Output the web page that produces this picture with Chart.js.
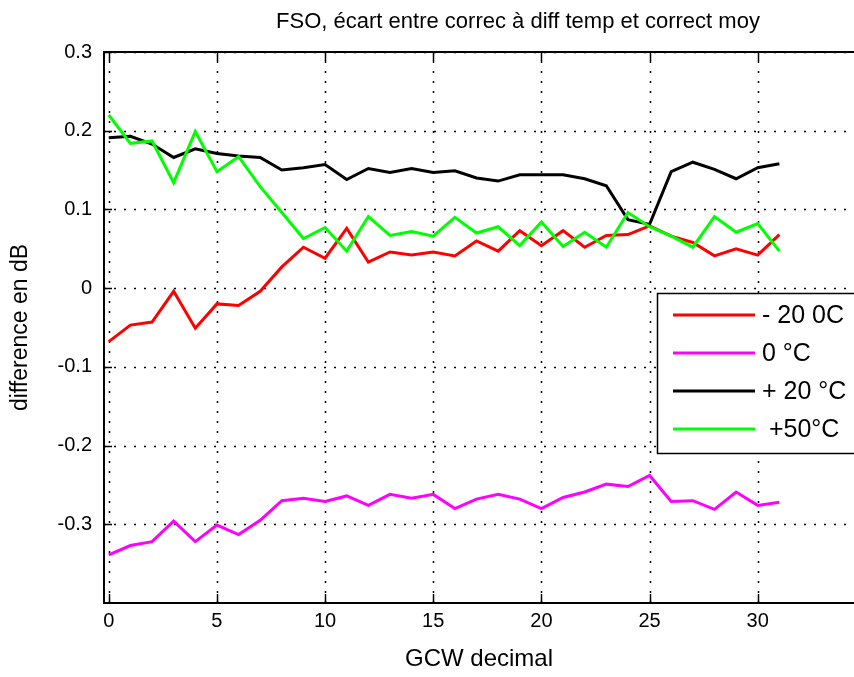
<!DOCTYPE html>
<html lang="fr">
<head>
<meta charset="UTF-8">
<title>FSO, écart entre correc à diff temp et correct moy</title>
<script src="https://cdn.jsdelivr.net/npm/chart.js"></script>
<style>
  body { margin: 0; background: #fff; }
  canvas { display: block; }
</style>
</head>
<body>
<canvas id="chart" width="854" height="677"></canvas>
<script>
// GCW decimal (x)
const gcw = [0, 1, 2, 3, 4, 5, 6, 7, 8, 9, 10, 11, 12, 13, 14, 15,
             16, 17, 18, 19, 20, 21, 22, 23, 24, 25, 26, 27, 28, 29, 30, 31];

const seriesNames = ['- 20 0C', '0 °C', '+ 20 °C', ' +50°C'];

// difference en dB
const minus20 = [-0.068, -0.047, -0.043, -0.004, -0.051, -0.020, -0.022, -0.004, 0.027, 0.052, 0.038, 0.076,
                 0.033, 0.046, 0.042, 0.046, 0.041, 0.060, 0.047, 0.073, 0.054, 0.073, 0.052, 0.067,
                 0.068, 0.079, 0.066, 0.058, 0.041, 0.050, 0.042, 0.068];
const zeroC = [-0.339, -0.327, -0.322, -0.296, -0.322, -0.301, -0.313, -0.295, -0.270, -0.267, -0.271, -0.264,
               -0.276, -0.262, -0.267, -0.262, -0.280, -0.268, -0.262, -0.268, -0.280, -0.266, -0.259, -0.249,
               -0.252, -0.238, -0.271, -0.270, -0.281, -0.259, -0.276, -0.272];
const plus20 = [0.191, 0.193, 0.183, 0.166, 0.177, 0.171, 0.168, 0.166, 0.150, 0.153, 0.157, 0.138,
                0.152, 0.147, 0.152, 0.147, 0.149, 0.140, 0.136, 0.144, 0.144, 0.144, 0.139, 0.130,
                0.087, 0.081, 0.148, 0.160, 0.151, 0.139, 0.153, 0.158];
const plus50 = [0.220, 0.184, 0.187, 0.134, 0.199, 0.148, 0.167, 0.129, 0.096, 0.063, 0.077, 0.047,
                0.091, 0.067, 0.072, 0.066, 0.090, 0.070, 0.078, 0.054, 0.084, 0.053, 0.071, 0.052,
                0.096, 0.078, 0.066, 0.052, 0.091, 0.071, 0.082, 0.047];

const xTicks = [0, 5, 10, 15, 20, 25, 30];
const yTicks = [-0.3, -0.2, -0.1, 0, 0.1, 0.2, 0.3];

const FONT = '"Liberation Sans", Arial, sans-serif';
const colors = ['#ff0000', '#ff00ff', '#000000', '#00ff00'];

function pts(arr) {
    return gcw.map((x, i) => ({ x: x, y: arr[i] }));
}

// matlab-ish axes box: dotted grid, top/left/bottom lines, inward ticks
const axesBox = {
    id: 'axesBox',
    beforeDatasetsDraw(chart) {
        const { ctx, chartArea: a, scales: { x, y } } = chart;
        ctx.save();
        ctx.strokeStyle = '#000';
        ctx.lineWidth = 1.5;
        ctx.setLineDash([2, 8]);
        xTicks.forEach(v => {
            const px = Math.round(x.getPixelForValue(v)) + 0.5;
            ctx.beginPath(); ctx.moveTo(px, a.bottom); ctx.lineTo(px, a.top); ctx.stroke();
        });
        yTicks.forEach(v => {
            const py = Math.round(y.getPixelForValue(v)) + 0.5;
            ctx.beginPath(); ctx.moveTo(a.left, py); ctx.lineTo(a.right, py); ctx.stroke();
        });
        ctx.setLineDash([]);
        ctx.lineWidth = 2;
        ctx.beginPath();
        ctx.moveTo(a.right, a.top); ctx.lineTo(a.left, a.top);
        ctx.lineTo(a.left, a.bottom); ctx.lineTo(a.right, a.bottom);
        ctx.stroke();
        ctx.lineWidth = 1.5;
        xTicks.forEach(v => {
            const px = Math.round(x.getPixelForValue(v)) + 0.5;
            ctx.beginPath(); ctx.moveTo(px, a.bottom); ctx.lineTo(px, a.bottom - 9); ctx.stroke();
            ctx.beginPath(); ctx.moveTo(px, a.top); ctx.lineTo(px, a.top + 9); ctx.stroke();
        });
        yTicks.forEach(v => {
            const py = Math.round(y.getPixelForValue(v)) + 0.5;
            ctx.beginPath(); ctx.moveTo(a.left, py); ctx.lineTo(a.left + 8, py); ctx.stroke();
        });
        ctx.restore();
    }
};

const titleAndLegend = {
    id: 'titleAndLegend',
    afterDraw(chart) {
        const ctx = chart.ctx;
        ctx.save();
        ctx.fillStyle = '#000';
        ctx.font = '22px ' + FONT;
        ctx.textAlign = 'center';
        ctx.textBaseline = 'middle';
        ctx.fillText('FSO, écart entre correc à diff temp et correct moy', 518, 22);

        // legend box, cut by the right edge like the original
        ctx.fillStyle = '#fff';
        ctx.fillRect(657, 293, 220, 160);
        ctx.strokeStyle = '#000';
        ctx.lineWidth = 1.5;
        ctx.strokeRect(657.5, 293.5, 220, 160);
        ctx.font = '25px ' + FONT;
        ctx.textAlign = 'left';
        chart.data.datasets.forEach((ds, i) => {
            const ry = 315 + i * 38;
            ctx.strokeStyle = ds.borderColor;
            ctx.lineWidth = 3;
            ctx.beginPath(); ctx.moveTo(673, ry); ctx.lineTo(755, ry); ctx.stroke();
            ctx.fillStyle = '#000';
            ctx.fillText(ds.label, 762, ry + 1);
        });
        ctx.restore();
    }
};

new Chart(document.getElementById('chart'), {
    type: 'line',
    data: {
        datasets: [
            { label: seriesNames[0], data: pts(minus20), borderColor: colors[0], order: 4 },
            { label: seriesNames[1], data: pts(zeroC), borderColor: colors[1], order: 3 },
            { label: seriesNames[2], data: pts(plus20), borderColor: colors[2], order: 2 },
            { label: seriesNames[3], data: pts(plus50), borderColor: colors[3], order: 1 }
        ]
    },
    options: {
        responsive: false,
        animation: false,
        layout: { padding: { top: 52, left: 0, right: 0, bottom: 0 } },
        elements: {
            line: { borderWidth: 3, tension: 0, fill: false },
            point: { radius: 0, hoverRadius: 0 }
        },
        plugins: {
            legend: { display: false },
            title: { display: false },
            tooltip: { enabled: false }
        },
        scales: {
            x: {
                type: 'linear',
                min: -0.22,
                max: 34.45,
                afterBuildTicks: s => { s.ticks = xTicks.map(v => ({ value: v })); },
                afterFit: s => { s.height = 74; s.paddingLeft = 0; s.paddingRight = 0; },
                grid: { display: false, drawTicks: false },
                border: { display: false },
                ticks: { color: '#000', font: { family: FONT, size: 20 }, padding: 6, maxRotation: 0, autoSkip: false },
                title: { display: true, text: 'GCW decimal', color: '#000', font: { family: FONT, size: 24 }, padding: { top: 0, bottom: 3 } }
            },
            y: {
                min: -0.4,
                max: 0.3,
                afterBuildTicks: s => { s.ticks = yTicks.map(v => ({ value: v })); },
                afterFit: s => { s.width = 104; s.paddingTop = 0; s.paddingBottom = 0; },
                grid: { display: false, drawTicks: false },
                border: { display: false },
                ticks: {
                    color: '#000', font: { family: FONT, size: 20 }, padding: 12,
                    callback: v => String(Math.round(v * 10) / 10)
                },
                title: { display: true, text: 'difference en dB', color: '#000', font: { family: FONT, size: 23 }, padding: { top: 7, bottom: 0 } }
            }
        }
    },
    plugins: [axesBox, titleAndLegend]
});
</script>
</body>
</html>
